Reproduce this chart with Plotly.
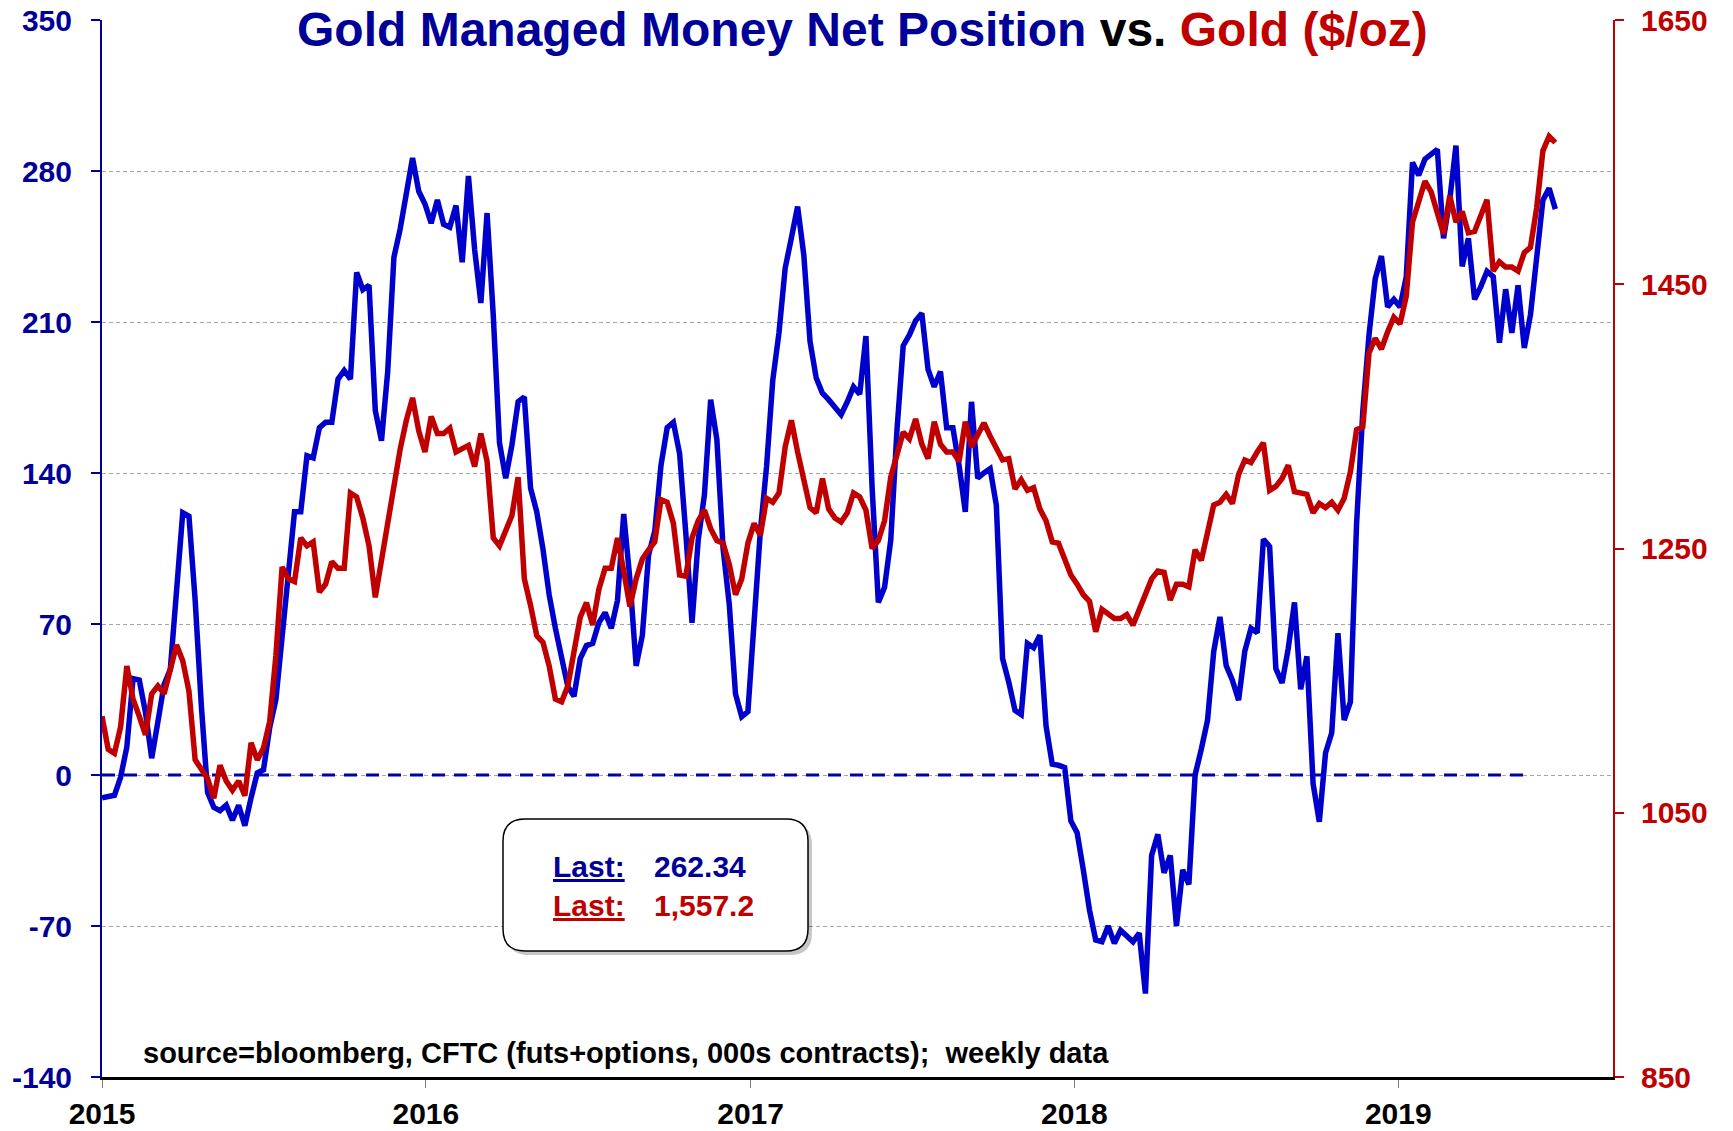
import plotly.graph_objects as go
import pandas as pd

# ---------------- data (weekly) ----------------
START_DATE = "2015-01-01"

managed_money_net = [
    -10.6, -10, -9.4, -1, 13, 44.7, 44, 29, 7.8, 24.7,
    42, 49, 82, 121.6, 120, 81, 32, -8, -15, -16.5,
    -14, -21, -14, -23.5, -10.6, 1, 2.4, 22, 35, 62,
    95, 122, 122, 148, 147, 161, 163.5, 163.5, 183.5, 187.5,
    183.5, 233, 225, 227, 169, 155, 187, 240, 253, 270,
    286, 270.6, 264.7, 255.8, 266.6, 255.3, 254, 264, 237.7, 277.7,
    243.5, 218.8, 260.5, 213, 154, 137.6, 153, 173, 175.3, 133,
    122, 104.7, 83.5, 68, 53, 41, 36.5, 54, 60, 61,
    70.6, 75.3, 68, 81, 121, 90.6, 50.6, 64.7, 102, 113,
    143.5, 161, 163.5, 149, 112, 70.6, 109, 130, 174, 155.5,
    105, 79, 37.6, 27, 29.4, 68, 113, 143, 183, 205,
    235, 249, 263.5, 241, 201, 184, 177, 174, 170, 167,
    173, 180, 176.5, 203.5, 133, 80, 87, 109, 160, 199,
    204, 210.6, 214, 188, 180, 187, 161, 161, 143.5, 122,
    173, 137.6, 140, 142, 125, 54, 43, 30, 28, 61,
    59, 64.8, 22.7, 5, 4.5, 3.5, -21.3, -26.7, -44, -62.7,
    -76.5, -77.3, -70, -78, -72, -74.7, -77.3, -73.3, -101.3, -37.3,
    -27.5, -45.3, -37.3, -70, -44, -50.7, 0, 12, 25.3, 57.3,
    73.3, 50.7, 44, 34.7, 57.3, 68, 65.9, 109.3, 105.9, 49.3,
    42.7, 58.7, 80, 39.7, 55, -4, -21.7, 10.2, 19.6, 65.7,
    25.5, 33.8, 116.5, 168.5, 204, 230, 240.6, 217, 220.5, 217,
    231, 284, 278, 285.5, 288, 290, 248.8, 266.5, 291.8, 235.8,
    248.8, 220.5, 226.4, 233.5, 231, 200.4, 225.2, 205, 227, 198,
    213.4, 241.7, 266.5, 272, 262.34,
]

gold_price = [
    1123, 1098, 1095, 1115, 1161, 1136, 1123, 1109, 1140, 1146,
    1140, 1157, 1177, 1165, 1142, 1090, 1082, 1076, 1061, 1086,
    1074, 1067, 1074, 1063, 1103, 1090, 1099, 1119, 1169, 1236,
    1227, 1225, 1258, 1252, 1255, 1217, 1223, 1240, 1235, 1235,
    1292, 1289, 1273, 1252, 1213, 1240, 1269, 1300, 1325, 1347,
    1364, 1339, 1323, 1350, 1337, 1337, 1341, 1323, 1325, 1328,
    1312, 1337, 1316, 1258, 1252, 1265, 1275, 1304, 1227, 1207,
    1184, 1179, 1161, 1136, 1134, 1146, 1173, 1198, 1209, 1192,
    1219, 1235, 1235, 1258, 1233, 1206, 1227, 1242, 1249, 1255,
    1287, 1285, 1269, 1230, 1229, 1258, 1271, 1279, 1265, 1256,
    1254, 1238, 1215, 1227, 1254, 1269, 1260, 1288, 1285, 1292,
    1327, 1347, 1323, 1300, 1281, 1277, 1303, 1280, 1273, 1270,
    1277, 1292, 1289, 1279, 1250, 1256, 1271, 1304, 1321, 1338,
    1333, 1348, 1329, 1318, 1346, 1329, 1323, 1323, 1316, 1346,
    1327, 1337, 1345, 1335, 1325, 1317, 1318, 1295, 1302, 1294,
    1296, 1280, 1271, 1255, 1254, 1243, 1230, 1223, 1215, 1210,
    1187, 1204, 1201, 1197, 1197, 1200, 1192, 1204, 1217, 1227,
    1233, 1232, 1211, 1223, 1223, 1221, 1249, 1241, 1262, 1283,
    1285, 1291, 1284, 1306, 1317, 1315, 1323, 1330, 1294, 1297,
    1303, 1313, 1293, 1292, 1291, 1277, 1284, 1281, 1285, 1279,
    1288, 1308, 1340, 1342, 1398, 1409, 1401, 1414, 1425, 1420,
    1441, 1497, 1514, 1528, 1520, 1505, 1488, 1517, 1497, 1505,
    1489, 1490, 1503, 1514, 1460, 1467, 1463, 1463, 1460, 1474,
    1478, 1508, 1551, 1562, 1557.2,
]

ZERO_LEVEL = 0
ZERO_LINE_END_WEEK = 230

year_ticks = ["2015-01-01", "2016-01-01", "2017-01-01", "2018-01-01", "2019-01-01"]
year_labels = ["2015", "2016", "2017", "2018", "2019"]
left_ticks = [-140, -70, 0, 70, 140, 210, 280, 350]
left_labels = ["-140", "-70", "0", "70", "140", "210", "280", "350"]
right_ticks = [850, 1050, 1250, 1450, 1650]
right_labels = ["850", "1050", "1250", "1450", "1650"]

X_RANGE = ["2015-01-01", "2019-08-31"]
LEFT_RANGE = [-140, 350]
RIGHT_RANGE = [850, 1650]

# ---------------- styling ----------------
NAVY = "#000099"
BLUE = "#0000CC"
RED = "#C00000"
FONT = "Liberation Sans, Arial, sans-serif"

W, H = 1733, 1131
PL, PR, PT, PB = 102, 1613, 20, 1077


def px(x):
    return (x - PL) / (PR - PL)


def py(y):
    return (PB - y) / (PB - PT)


def bold(labels):
    return [f"<b>{t}</b>" for t in labels]


def rounded_rect(x0, y0, x1, y1, r):
    return (
        f"M {px(x0 + r)},{py(y0)} L {px(x1 - r)},{py(y0)} "
        f"Q {px(x1)},{py(y0)} {px(x1)},{py(y0 + r)} "
        f"L {px(x1)},{py(y1 - r)} Q {px(x1)},{py(y1)} {px(x1 - r)},{py(y1)} "
        f"L {px(x0 + r)},{py(y1)} Q {px(x0)},{py(y1)} {px(x0)},{py(y1 - r)} "
        f"L {px(x0)},{py(y0 + r)} Q {px(x0)},{py(y0)} {px(x0 + r)},{py(y0)} Z"
    )


dates = pd.date_range(START_DATE, periods=len(managed_money_net), freq="7D")

fig = go.Figure()

fig.add_trace(go.Scatter(
    x=[dates[0], dates[ZERO_LINE_END_WEEK]], y=[ZERO_LEVEL, ZERO_LEVEL],
    mode="lines", line=dict(color="#0000AA", width=3, dash="13px,9px"),
    yaxis="y", hoverinfo="skip",
))
fig.add_trace(go.Scatter(
    x=dates, y=managed_money_net, mode="lines",
    line=dict(color=BLUE, width=5.5), yaxis="y", name="Managed Money Net",
))
fig.add_trace(go.Scatter(
    x=dates, y=gold_price, mode="lines",
    line=dict(color=RED, width=5.5), yaxis="y2", name="Gold",
))

fig.update_layout(
    width=W, height=H,
    margin=dict(l=PL, r=W - PR, t=PT, b=H - PB, autoexpand=False),
    paper_bgcolor="white", plot_bgcolor="white",
    showlegend=False,
    font=dict(family=FONT),
    xaxis=dict(
        type="date", range=X_RANGE, automargin=False,
        tickvals=year_ticks, ticktext=bold(year_labels),
        ticks="outside", ticklen=8, tickcolor="#808080", tickwidth=1,
        showline=True, linecolor="black", linewidth=3,
        showgrid=False, zeroline=False,
        tickfont=dict(family=FONT, size=30, color="black"),
        ticklabelstandoff=0,
    ),
    yaxis=dict(
        range=LEFT_RANGE, tickvals=left_ticks, ticktext=bold(left_labels),
        automargin=False,
        ticks="outside", ticklen=9, tickcolor=NAVY, tickwidth=2,
        showline=True, linecolor=NAVY, linewidth=2,
        showgrid=True, gridcolor="#A6A6A6", gridwidth=1, griddash="4px,3px",
        zeroline=False,
        tickfont=dict(family=FONT, size=30, color=NAVY),
        ticklabelstandoff=13,
    ),
    yaxis2=dict(
        range=RIGHT_RANGE, tickvals=right_ticks, ticktext=bold(right_labels),
        automargin=False,
        overlaying="y", side="right",
        ticks="outside", ticklen=9, tickcolor=RED, tickwidth=2,
        showline=True, linecolor=RED, linewidth=2,
        showgrid=False, zeroline=False,
        tickfont=dict(family=FONT, size=30, color=RED),
        ticklabelstandoff=11,
    ),
)

# "Last" box
bx0, by0, bx1, by1, br = 503, 819, 808, 951, 22
fig.add_shape(type="path", xref="paper", yref="paper",
              path=rounded_rect(bx0 + 4, by0 + 4, bx1 + 4, by1 + 4, br),
              fillcolor="rgba(0,0,0,0.22)", line=dict(width=0), layer="above")
fig.add_shape(type="path", xref="paper", yref="paper",
              path=rounded_rect(bx0, by0, bx1, by1, br),
              fillcolor="white", line=dict(color="black", width=1.5), layer="above")

last_mm = f"{managed_money_net[-1]:.2f}"
last_gold = f"{gold_price[-1]:,.1f}"
for txt, col, x, y in [
    ("<b><u>Last:</u></b>", NAVY, 551, 866),
    (f"<b>{last_mm}</b>", NAVY, 652, 866),
    ("<b><u>Last:</u></b>", RED, 551, 906),
    (f"<b>{last_gold}</b>", RED, 652, 906),
]:
    fig.add_annotation(xref="paper", yref="paper", x=px(x), y=py(y),
                       xanchor="left", yanchor="middle", showarrow=False,
                       text=txt, font=dict(family=FONT, size=30, color=col))

# title
fig.add_annotation(
    xref="paper", yref="paper", x=px(862), y=py(30),
    xanchor="center", yanchor="middle", showarrow=False,
    text=(f"<b><span style='color:{NAVY}'>Gold Managed Money Net Position</span>"
          f" vs. <span style='color:{RED}'>Gold ($/oz)</span></b>"),
    font=dict(family=FONT, size=48, color="black"),
    bgcolor="white", borderpad=6,
)

# source
fig.add_annotation(
    xref="paper", yref="paper", x=px(141), y=py(1053),
    xanchor="left", yanchor="middle", showarrow=False,
    text="<b>source=bloomberg, CFTC (futs+options, 000s contracts);  weekly data</b>",
    font=dict(family=FONT, size=29, color="black"),
)

fig.write_html(
    "out.html",
    config={"displayModeBar": False},
    post_script="document.body.style.margin='0';document.body.style.overflow='hidden';",
)
